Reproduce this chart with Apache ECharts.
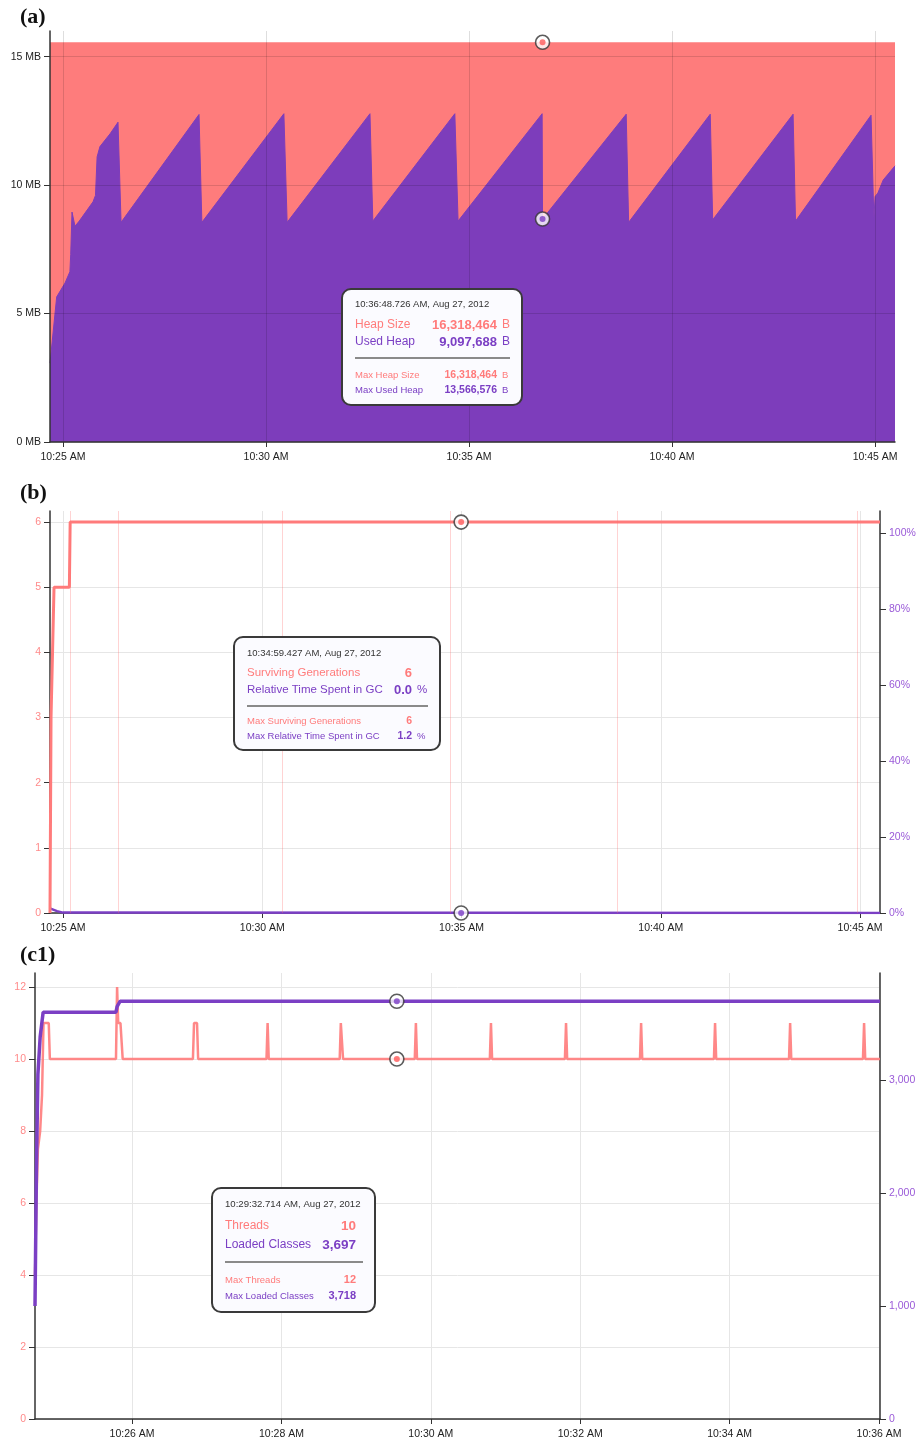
<!DOCTYPE html>
<html lang="en">
<head>
<meta charset="UTF-8">
<title>JVM memory / GC / threads</title>
<script src="https://cdn.jsdelivr.net/npm/echarts@6.0.0/dist/echarts.min.js"></script>
<style>
  html, body { margin: 0; padding: 0; background: #fff; }
  #chart { width: 923px; height: 1445px; }
</style>
</head>
<body>
<div id="chart"></div>
<script>
// time values are minutes after 10:00 AM

// (a) heap, MB
var heapTime = [24.68, 45.49];
var heapSize = [15.56, 15.56];
var usedTime = [24.68, 24.845, 25.05, 25.17, 25.19, 25.222, 25.296, 25.40, 25.739, 25.80, 25.84, 25.91, 26.16, 26.355, 26.43,
  28.35, 28.42, 30.44, 30.52, 32.56, 32.63, 34.65, 34.73, 36.80, 36.81, 38.87, 38.93, 40.94, 41.00,
  42.98, 43.04, 44.90, 44.97, 45.00, 45.07, 45.20, 45.49];
var usedHeap = [3.07, 5.65, 6.19, 6.63, 7.3, 8.95, 8.4, 8.6, 9.35, 9.6, 11.1, 11.5, 12.0, 12.45, 8.55,
  12.75, 8.55, 12.78, 8.55, 12.78, 8.6, 12.78, 8.6, 12.78, 8.68, 12.76, 8.55, 12.76, 8.65,
  12.76, 8.6, 12.72, 8.7, 9.55, 9.7, 10.2, 10.75];
var aTicks = [25, 30, 35, 40, 45];
var aMbTicks = [0, 5, 10, 15];
var aMarkTime = 36.81;
var aMarkVals = [15.56, 8.68];

// (b) surviving generations + % time in GC
var survTime = [24.674, 24.70, 24.73, 24.775, 25.16, 25.18, 45.50];
var survGen = [0, 3, 3, 5, 5, 6, 6];
var gcTime = [24.674, 24.72, 24.85, 25.0, 25.05, 45.50];
var gcPct = [1.2, 0.9, 0.5, 0.1, 0, 0];
var gcEvents = [25.18, 26.38, 30.49, 34.71, 38.90, 44.94];
var bTicks = [25, 30, 35, 40, 45];
var bGenTicks = [0, 1, 2, 3, 4, 5, 6];
var bPctTicks = [0, 20, 40, 60, 80, 100];
var bMarkTime = 34.99;

// (c1) threads + loaded classes
var threadTime = [24.701, 24.72, 24.74, 24.77, 24.795, 24.815, 24.885, 24.90, 25.785, 25.80, 25.815, 25.845, 25.875,
  26.815, 26.83, 26.87, 26.885, 27.80, 27.815, 27.83, 28.78, 28.795, 28.81, 28.825, 29.785, 29.80, 29.815,
  30.79, 30.805, 30.82, 31.795, 31.81, 31.825, 32.80, 32.815, 32.83, 33.79, 33.805, 33.82,
  34.795, 34.81, 34.825, 35.785, 35.80, 35.815, 36.013];
var threadCount = [4, 6, 7.5, 8, 9, 11, 11, 10, 10, 12, 11, 11, 10,
  10, 11, 11, 10, 10, 11, 10, 10, 11, 11, 10, 10, 11, 10,
  10, 11, 10, 10, 11, 10, 10, 11, 10, 10, 11, 10,
  10, 11, 10, 10, 11, 10, 10];
var classTime = [24.701, 24.72, 24.74, 24.77, 24.81, 25.785, 25.80, 25.84, 36.013];
var classCount = [1000, 2200, 3050, 3380, 3600, 3600, 3650, 3697, 3697];
var cTicks = [26, 28, 30, 32, 34, 36];
var cThreadTicks = [0, 2, 4, 6, 8, 10, 12];
var cClassTicks = [0, 1000, 2000, 3000];
var cMarkTime = 29.545;

// tooltip texts
var tipA = ['10:36:48.726 AM, Aug 27, 2012',
  ['Heap Size', '16,318,464', 'B'], ['Used Heap', '9,097,688', 'B'],
  ['Max Heap Size', '16,318,464', 'B'], ['Max Used Heap', '13,566,576', 'B']];
var tipB = ['10:34:59.427 AM, Aug 27, 2012',
  ['Surviving Generations', '6', ''], ['Relative Time Spent in GC', '0.0', '%'],
  ['Max Surviving Generations', '6', ''], ['Max Relative Time Spent in GC', '1.2', '%']];
var tipC = ['10:29:32.714 AM, Aug 27, 2012',
  ['Threads', '10', ''], ['Loaded Classes', '3,697', ''],
  ['Max Threads', '12', ''], ['Max Loaded Classes', '3,718', '']];

var RED = '#ff7b7b';
var RED_FILL = '#fe7c7c';
var PURPLE = '#7b3fc4';
var PURPLE_FILL = '#7d3dbb';
var PURPLE_TXT = '#9a5ad8';
var FONT = 'Tahoma, "Liberation Sans", Arial, sans-serif';

function pairs(xs, ys) { return xs.map(function (x, i) { return [x, ys[i]]; }); }
function fmtTime(v) { var m = Math.round(v); return '10:' + (m < 10 ? '0' + m : m) + ' AM'; }

function xAxisCfg(grid, min, max, ticks, split, z) {
  return {
    type: 'value', gridIndex: grid, min: min, max: max, z: z || 0,
    axisLine: { show: true, onZero: false, lineStyle: { color: '#333', width: 1.5 } },
    axisTick: { show: true, length: 5, customValues: ticks, lineStyle: { color: '#333' } },
    axisLabel: { customValues: ticks, formatter: fmtTime, color: '#222', fontSize: 10.5, fontFamily: FONT, margin: 10 },
    splitLine: { show: true, lineStyle: { color: split } }
  };
}
function yAxisCfg(grid, pos, max, ticks, color, fmt, split, z) {
  return {
    type: 'value', gridIndex: grid, position: pos, min: 0, max: max, z: z || 0,
    axisLine: { show: true, lineStyle: { color: '#333', width: 1.5 } },
    axisTick: { show: true, length: 6, customValues: ticks, lineStyle: { color: '#333' } },
    axisLabel: { customValues: ticks, formatter: fmt, color: color, fontSize: 10.5, fontFamily: FONT, margin: 9 },
    splitLine: split ? { show: true, lineStyle: { color: split } } : { show: false }
  };
}

function markers(xi, yi, t, v, color) {
  return [{
    type: 'scatter', xAxisIndex: xi, yAxisIndex: yi, data: [[t, v]], symbol: 'circle', symbolSize: 14,
    itemStyle: { color: '#fff', borderColor: '#333', borderWidth: 1.6 }, clip: false, z: 20, silent: true
  }, {
    type: 'scatter', xAxisIndex: xi, yAxisIndex: yi, data: [[t, v]], symbol: 'circle', symbolSize: 6,
    itemStyle: { color: color }, clip: false, z: 21, silent: true
  }];
}

function tip(tipData, g) {
  var els = [];
  els.push({ type: 'rect', shape: { x: g.x, y: g.y, width: g.w, height: g.h, r: 9 },
    style: { fill: '#fbfbff', stroke: '#3a3a3a', lineWidth: 2 }, z: 100 });
  var tx = g.x + 13;
  function txt(s, x, y, size, color, weight, align) {
    els.push({ type: 'text', z: 101, style: { text: s, x: x, y: y, fill: color,
      font: (weight || 'normal') + ' ' + size + 'px ' + FONT,
      align: align || 'left', textAlign: align || 'left', verticalAlign: 'middle', textVerticalAlign: 'middle' } });
  }
  txt(tipData[0], tx, g.hy, g.hs, '#333');
  var colors = [RED, PURPLE, RED, PURPLE];
  for (var i = 0; i < 4; i++) {
    var row = tipData[i + 1];
    var big = i < 2;
    var y = g.ry[i];
    txt(row[0], tx, y, big ? g.ls : g.sls, colors[i]);
    txt(row[1], g.vr, y, big ? g.vs : g.svs, colors[i], 'bold', 'right');
    if (row[2]) txt(row[2], g.ux, y, big ? g.ls : g.sls, colors[i]);
  }
  els.push({ type: 'line', z: 101, shape: { x1: tx, y1: g.sy, x2: g.x + g.w - 12, y2: g.sy },
    style: { stroke: '#8a8a8a', lineWidth: 2 } });
  return els;
}

var chart = echarts.init(document.getElementById('chart'), null, { renderer: 'canvas' });

var graphics = [
  { type: 'text', style: { text: '(a)', x: 20, y: 17, font: 'bold 22px "Liberation Serif", serif', fill: '#111', verticalAlign: 'middle', textVerticalAlign: 'middle' } },
  { type: 'text', style: { text: '(b)', x: 20, y: 493, font: 'bold 22px "Liberation Serif", serif', fill: '#111', verticalAlign: 'middle', textVerticalAlign: 'middle' } },
  { type: 'text', style: { text: '(c1)', x: 20, y: 955, font: 'bold 22px "Liberation Serif", serif', fill: '#111', verticalAlign: 'middle', textVerticalAlign: 'middle' } }
]
.concat(tip(tipA, { x: 342, y: 289, w: 180, h: 116, hy: 304, hs: 9.5, ry: [325, 342, 375, 390], ls: 12, vs: 13, sls: 9.5, svs: 10.5, vr: 497, ux: 502, sy: 358 }))
.concat(tip(tipB, { x: 234, y: 637, w: 206, h: 113, hy: 653, hs: 9.5, ry: [673, 690, 721, 736], ls: 11.5, vs: 13, sls: 9.5, svs: 10.5, vr: 412, ux: 417, sy: 706 }))
.concat(tip(tipC, { x: 212, y: 1188, w: 163, h: 124, hy: 1204, hs: 9.6, ry: [1226, 1245, 1280, 1296], ls: 12, vs: 13.5, sls: 9.5, svs: 11, vr: 356, ux: 358, sy: 1262 }));

var option = {
  animation: false,
  backgroundColor: '#fff',
  grid: [
    { left: 50, right: 28, top: 31, bottom: 1003, outerBoundsMode: 'none' },
    { left: 50, right: 43, top: 511, bottom: 532, outerBoundsMode: 'none' },
    { left: 35, right: 43, top: 973, bottom: 26, outerBoundsMode: 'none' }
  ],
  xAxis: [
    xAxisCfg(0, 24.68, 45.49, aTicks, 'rgba(0,0,0,0.13)', 5),
    xAxisCfg(1, 24.674, 45.50, bTicks, '#e6e6e6'),
    xAxisCfg(2, 24.701, 36.013, cTicks, '#e6e6e6')
  ],
  yAxis: [
    yAxisCfg(0, 'left', 16, aMbTicks, '#222', function (v) { return v + ' MB'; }, 'rgba(0,0,0,0.13)', 5),
    yAxisCfg(1, 'left', 6.17, bGenTicks, '#ff8a8a', null, '#e6e6e6'),
    yAxisCfg(1, 'right', 105.8, bPctTicks, PURPLE_TXT, function (v) { return v + '%'; }, null),
    yAxisCfg(2, 'left', 12.39, cThreadTicks, '#ff8a8a', null, '#e6e6e6'),
    yAxisCfg(2, 'right', 3947, cClassTicks, PURPLE_TXT, function (v) { return echarts.format.addCommas(v); }, null)
  ],
  graphic: graphics,
  series: [
    { type: 'line', xAxisIndex: 0, yAxisIndex: 0, data: pairs(heapTime, heapSize), symbol: 'none',
      lineStyle: { width: 0 }, areaStyle: { color: RED_FILL, opacity: 1 }, z: 1 },
    { type: 'line', xAxisIndex: 0, yAxisIndex: 0, data: pairs(usedTime, usedHeap), symbol: 'none',
      lineStyle: { width: 1, color: PURPLE_FILL }, areaStyle: { color: PURPLE_FILL, opacity: 1 }, z: 2 },

    { type: 'line', xAxisIndex: 1, yAxisIndex: 2, data: pairs(gcTime, gcPct), symbol: 'none',
      lineStyle: { width: 2.5, color: PURPLE }, z: 3 },
    { type: 'line', xAxisIndex: 1, yAxisIndex: 1, data: pairs(survTime, survGen), symbol: 'none',
      lineStyle: { width: 3, color: RED }, z: 4,
      markLine: { silent: true, symbol: 'none', label: { show: false },
        lineStyle: { color: 'rgba(255,110,110,0.3)', width: 1, type: 'solid' },
        data: gcEvents.map(function (t) { return { xAxis: t }; }) } },

    { type: 'line', xAxisIndex: 2, yAxisIndex: 3, data: pairs(threadTime, threadCount), symbol: 'none',
      lineStyle: { width: 2.5, color: RED, opacity: 0.9 }, z: 3 },
    { type: 'line', xAxisIndex: 2, yAxisIndex: 4, data: pairs(classTime, classCount), symbol: 'none',
      lineStyle: { width: 3.5, color: PURPLE }, z: 4 }
  ]
  .concat(markers(0, 0, aMarkTime, aMarkVals[0], '#ff5a5a'))
  .concat(markers(0, 0, aMarkTime, aMarkVals[1], PURPLE))
  .concat(markers(1, 1, bMarkTime, 6, '#ff5a5a'))
  .concat(markers(1, 2, bMarkTime, 0, PURPLE))
  .concat(markers(2, 3, cMarkTime, 10, '#ff5a5a'))
  .concat(markers(2, 4, cMarkTime, 3697, PURPLE))
};

chart.setOption(option);
</script>
</body>
</html>
